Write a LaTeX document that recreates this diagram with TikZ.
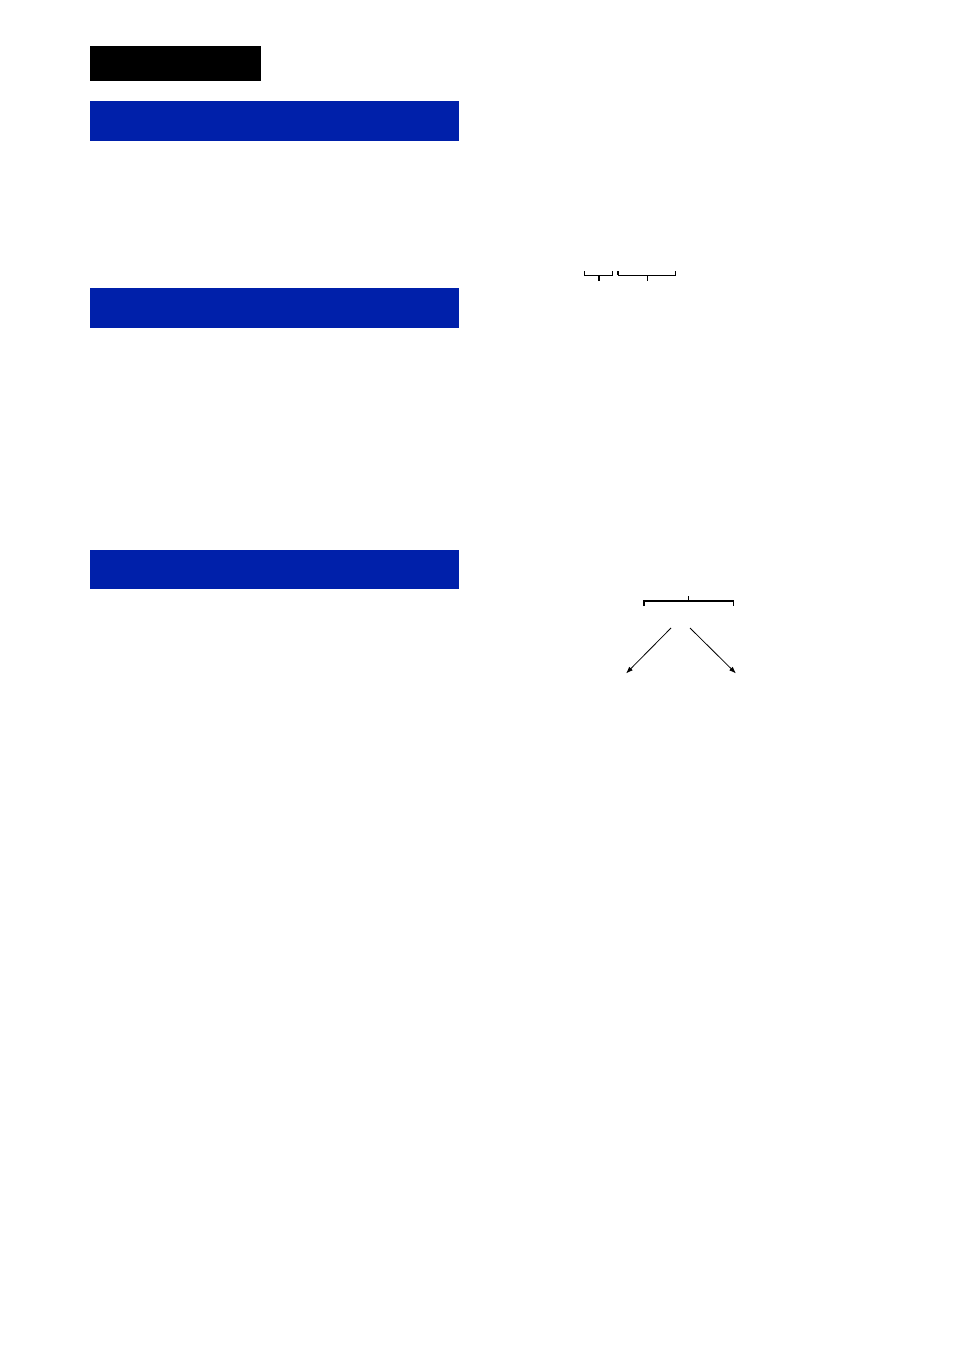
\documentclass[tikz,border=0pt]{standalone}
\usetikzlibrary{arrows.meta}
\definecolor{barblue}{RGB}{0,32,170}
\tikzset{
  bar/.style={fill=barblue, draw=none},
  titlebox/.style={fill=black, draw=none},
  brk/.style={draw=black, line width=1.2pt},
  tick/.style={draw=black, line width=0.8pt},
  arr/.style={draw=black, line width=0.8pt, -{Latex[length=7pt,width=5pt]}}
}
\begin{document}
\begin{tikzpicture}[x=1pt,y=-1pt]
\useasboundingbox (0,0) rectangle (954,1356);
\fill[white] (0,0) rectangle (954,1356);
% title and section bars
\path[titlebox] (90,46) rectangle (261,81);
\path[bar] (90,101) rectangle (459,141);
\path[bar] (90,288) rectangle (459,328);
\path[bar] (90,550) rectangle (459,589);
% small brackets
\coordinate (b1a) at (584.5,271);
\coordinate (b1b) at (612.5,271);
\coordinate (b1m) at (599,275);
\coordinate (b1t) at (599,281);
\draw[tick] (b1a) -- (584.5,275) -- (612.5,275) -- (b1b);
\draw[line width=1.6pt] (b1m) -- (b1t);
\coordinate (b2a) at (618,271);
\coordinate (b2b) at (675.5,271);
\coordinate (b2m) at (647.5,275);
\coordinate (b2t) at (647.5,281);
\draw[tick] (618,275) -- (675.5,275) -- (b2b);
\draw[line width=1.6pt] (b2a) -- (618,275);
\draw[tick] (b2m) -- (b2t);
% large bracket
\coordinate (c1) at (644,606);
\coordinate (c2) at (733.5,606);
\coordinate (cm) at (688.5,601);
\coordinate (ct) at (688.5,596);
\draw[brk] (c1) -- (644,601) -- (733.5,601) -- (c2);
\draw[tick] (cm) -- (ct);
% arrows
\coordinate (aL0) at (671,628);
\coordinate (aL1) at (626,673.5);
\coordinate (aR0) at (690,628);
\coordinate (aR1) at (736,673.5);
\draw[arr] (aL0) -- (aL1);
\draw[arr] (aR0) -- (aR1);
\end{tikzpicture}
\end{document}
